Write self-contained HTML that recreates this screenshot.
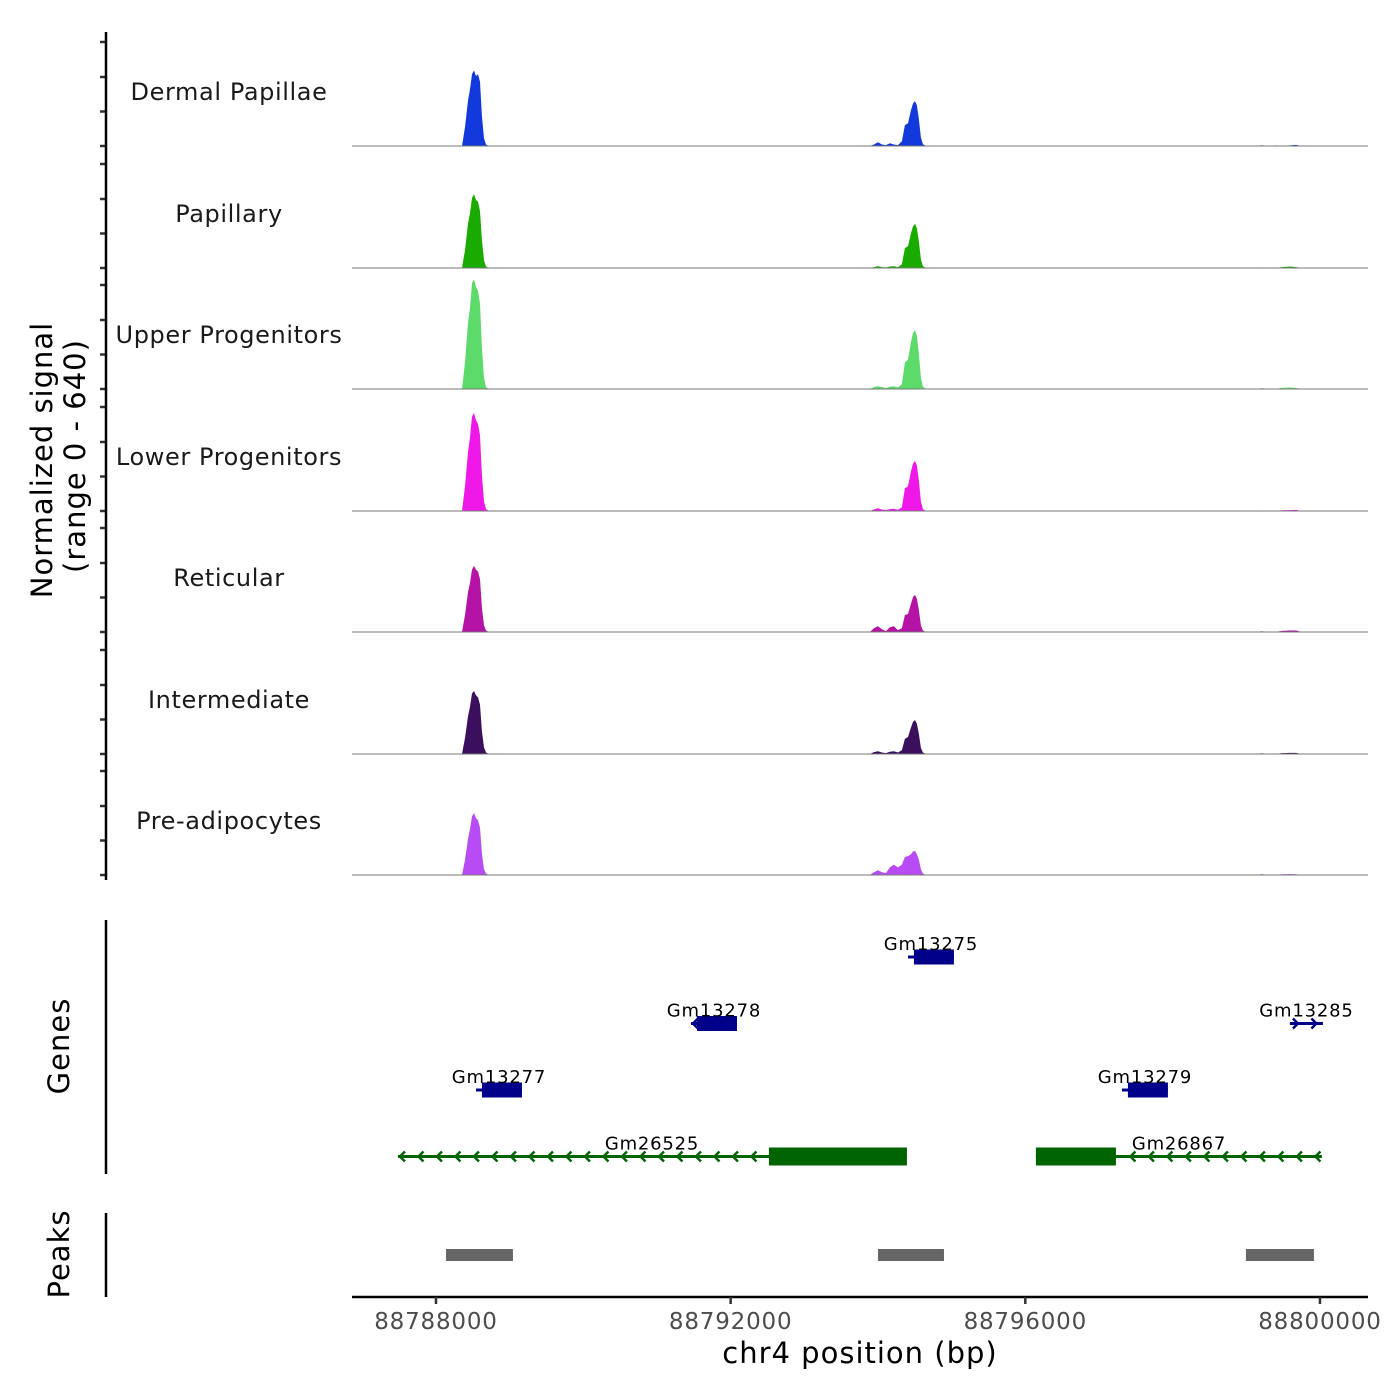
<!DOCTYPE html>
<html><head><meta charset="utf-8"><style>
body{margin:0;background:#fff}
svg{display:block;font-family:"DejaVu Sans","Liberation Sans",sans-serif}
</style></head><body>
<svg id="chart" width="1400" height="1400" viewBox="0 0 1400 1400" xmlns="http://www.w3.org/2000/svg">
<g id="tracks"></g>
<g id="genes"></g>
<g id="peaks"></g>
<g id="axes"></g>
</svg>
<script>
const NS='http://www.w3.org/2000/svg';
const trackNames=["Dermal Papillae","Papillary","Upper Progenitors","Lower Progenitors","Reticular","Intermediate","Pre-adipocytes"];
const trackColors=["#1239dc","#1aab00","#5ddb6a","#f018e8","#b512a6","#3b0e5e","#b84cf4"];
const binPos=[88788353,88788394,88788434,88788462,88788489,88788516,88788543,88788570,88788597,88788624,88788652,88788679,88788719,
88793891,88793945,88793999,88794054,88794108,88794162,88794216,88794271,88794325,88794366,88794407,88794448,88794475,88794502,88794529,88794556,88794583,88794610,88794651,
88799117,88799212,88799294,88799389,88799484,88799592,88799674,88799755];
const cov0=[0,100,240,300,380,400,370,380,340,160,40,8,0, 0,8,20,8,5,15,8,5,25,110,120,190,225,238,215,140,45,10,0, 0,4,0,3,0,3,6,0];
const cov1=[0,95,235,290,370,390,360,350,300,150,40,8,0, 0,5,10,5,3,8,10,5,20,105,115,185,220,233,210,140,45,10,0, 0,3,0,0,5,8,5,0];
const cov2=[0,140,350,430,560,580,540,520,450,220,60,10,0, 0,10,15,10,5,12,15,8,25,140,155,250,295,312,280,185,60,12,0, 0,5,0,0,6,8,6,0];
const cov3=[0,130,310,390,500,518,480,460,400,190,50,10,0, 0,8,15,8,5,10,12,6,20,120,130,210,250,265,240,160,50,10,0, 0,3,0,0,4,5,6,0];
const cov4=[0,90,210,260,330,350,330,320,280,130,35,8,0, 0,20,30,15,5,25,30,10,20,90,95,150,185,196,175,115,35,8,0, 0,4,0,0,6,8,8,0];
const cov5=[0,85,200,250,320,333,310,300,260,120,35,8,0, 0,10,15,8,5,12,15,8,20,80,90,140,170,180,160,105,32,8,0, 0,4,0,0,5,6,6,0];
const cov6=[0,80,190,245,310,328,300,290,250,115,30,8,0, 0,15,25,15,10,40,55,40,55,95,100,110,125,127,110,80,30,8,0, 0,5,0,0,4,5,4,0];
const coverage=[cov0,cov1,cov2,cov3,cov4,cov5,cov6];
const xTicks=[88788000,88792000,88796000,88800000];
const geneNames=["Gm13275","Gm13278","Gm13277","Gm13279","Gm13285","Gm26525","Gm26867"];
const geneStart=[88794407,88791461,88788543,88797312,88799592,88787484,88796144];
const geneEnd=[88795031,88792086,88789167,88797936,88800040,88794393,88800026];
const exonStart=[88794488,88791543,88788624,88797393,0,88792520,88796144];
const exonEnd=[88795031,88792086,88789167,88797936,0,88794393,88797230];
const geneRow=[0,1,2,2,1,3,3];
const geneStrand=["-","-","-","-","+","-","-"];
const geneColor=["#00008b","#00008b","#00008b","#00008b","#00008b","#006400","#006400"];
const peakStart=[88788136,88794000,88798995];
const peakEnd=[88789045,88794896,88799918];

const X0=352,X1=1368,B0=88786860,B1=88800652;
const xs=b=>X0+(b-B0)/(B1-B0)*(X1-X0);
const trackBase=[146,268,389,511,632,754,875];
const ys=(v,i)=>trackBase[i]-v/640*121;
function el(t,a,p){const e=document.createElementNS(NS,t);for(const k in a)e.setAttribute(k,a[k]);p.appendChild(e);return e;}
const T=document.getElementById('tracks'),G=document.getElementById('genes'),P=document.getElementById('peaks'),A=document.getElementById('axes');

coverage.forEach((c,i)=>{
  let d=`M${xs(B0)},${trackBase[i]}`;
  binPos.forEach((b,j)=>{d+=` L${xs(b).toFixed(1)},${ys(c[j],i).toFixed(1)}`;});
  d+=` L${xs(B1)},${trackBase[i]} Z`;
  const p=el('path',{d:d,fill:trackColors[i]},T);
  
  
  const l=el('line',{x1:X0,x2:X1,y1:trackBase[i],y2:trackBase[i],stroke:'#777','stroke-width':1},T);
  
  
  const t=el('text',{x:229,y:trackBase[i]-46,'text-anchor':'middle','font-size':24,'letter-spacing':0.6,fill:'#1a1a1a'},T);
  t.textContent=trackNames[i];
  
  
  [0,34.5,69,104].forEach(o=>{const k=el('line',{x1:100,x2:106,y1:trackBase[i]-o,y2:trackBase[i]-o,stroke:'#333','stroke-width':2.5},A);
    
    });
});

geneNames.forEach((g,i)=>{
  const y=957+geneRow[i]*66.5, c=geneColor[i];
  const x0=xs(geneStart[i]),x1=xs(geneEnd[i]);
  const ln=el('line',{x1:x0,x2:x1,y1:y,y2:y,stroke:c,'stroke-width':3},G);
  
  
  const step=18.5;
  for(let x=(geneStrand[i]=='-'?x0+2:x0+8);x<x1-2;x+=step){
    const ex=exonStart[i]?[xs(exonStart[i]),xs(exonEnd[i])]:[0,0];
    if(x>ex[0]-4&&x<ex[1]+4)continue;
    const d=geneStrand[i]=='-'?`M${x+5},${y-5} L${x},${y} L${x+5},${y+5}`:`M${x-5},${y-5} L${x},${y} L${x-5},${y+5}`;
    const ch=el('path',{d:d,stroke:c,'stroke-width':2.5,fill:'none'},G);
    
    
  }
  if(exonStart[i]){
    const h=i>=5?18:15;
    const r=el('rect',{x:xs(exonStart[i]),y:y-h/2,width:xs(exonEnd[i])-xs(exonStart[i]),height:h,fill:c},G);
    
    
  }
  const lx=i==5?652:i==6?1179:(x0+x1)/2;
  const t=el('text',{x:lx,y:y-7,'text-anchor':'middle','font-size':18,'letter-spacing':0.8,fill:'#000'},G);
  t.textContent=g;
  
  
});

peakStart.forEach((s,i)=>{
  const r=el('rect',{x:xs(s),y:1249,width:xs(peakEnd[i])-xs(s),height:12,fill:'#666'},P);
  
  
});

[[32,880],[920,1174],[1213,1297]].forEach(s=>{const l=el('line',{x1:106,x2:106,y1:s[0],y2:s[1],stroke:'#000','stroke-width':2.5},A);
  
  });
const xl=el('line',{x1:X0,x2:X1,y1:1297,y2:1297,stroke:'#000','stroke-width':2.5},A);


xTicks.forEach(v=>{
  const k=el('line',{x1:xs(v),x2:xs(v),y1:1297,y2:1304,stroke:'#333','stroke-width':2.5},A);
  
  
  const t=el('text',{x:xs(v),y:1329,'text-anchor':'middle','font-size':23,'letter-spacing':0.8,fill:'#4d4d4d'},A);
  t.textContent=v;
  
  
});
function txt(s,a,name){const t=el('text',a,A);t.textContent=s;return t;}
txt('chr4 position (bp)',{x:860,y:1363,'text-anchor':'middle','font-size':29,'letter-spacing':1,fill:'#000'},'x-axis-title');
txt('Normalized signal',{x:0,y:0,'text-anchor':'middle','font-size':29,'letter-spacing':1,fill:'#000',transform:'translate(52,460) rotate(-90)'},'y-axis-title');
txt('(range 0 - 640)',{x:0,y:0,'text-anchor':'middle','font-size':29,'letter-spacing':1,fill:'#000',transform:'translate(85,456) rotate(-90)'},'y-axis-range');
txt('Genes',{x:0,y:0,'text-anchor':'middle','font-size':29,'letter-spacing':1,fill:'#000',transform:'translate(69,1046) rotate(-90)'},'genes-axis-title');
txt('Peaks',{x:0,y:0,'text-anchor':'middle','font-size':29,'letter-spacing':1,fill:'#000',transform:'translate(69,1254) rotate(-90)'},'peaks-axis-title');
</script>
</body></html>
